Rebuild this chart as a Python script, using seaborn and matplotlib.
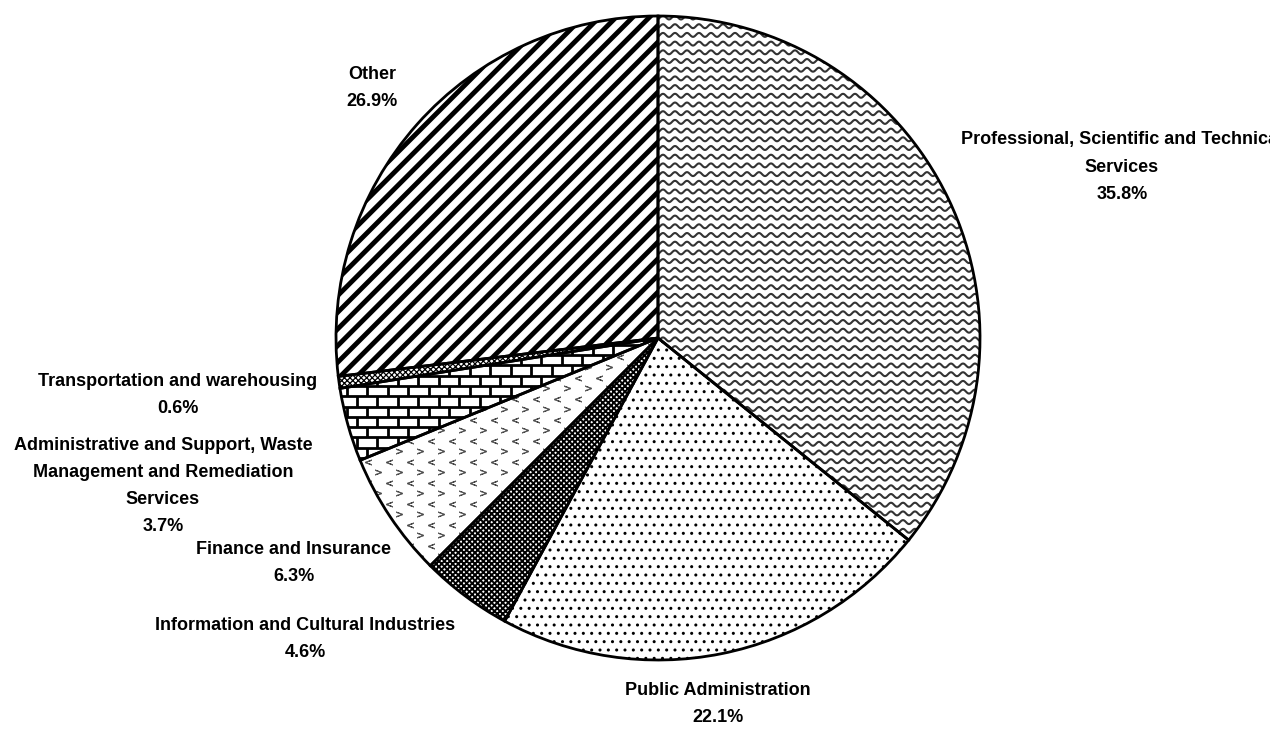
import numpy as np
import seaborn as sns
import matplotlib.pyplot as plt
from matplotlib.collections import LineCollection
from matplotlib.transforms import Bbox, TransformedBbox

# Shares of the total, clockwise from 12 o'clock
sectors = [
    "Professional, Scientific and Technical\nServices",
    "Public Administration",
    "Information and Cultural Industries",
    "Finance and Insurance",
    "Administrative and Support, Waste\nManagement and Remediation\nServices",
    "Transportation and warehousing",
    "Other",
]
shares = [35.8, 22.1, 4.6, 6.3, 3.7, 0.6, 26.9]

# label anchor points in pixels from the top-left corner
label_xy = [(1122, 167), (718, 704), (305, 639), (294, 563),
            (163, 486), (178, 395), (372, 88)]

sns.set_style("white")
plt.rcParams["font.family"] = ["Liberation Sans", "DejaVu Sans"]
plt.rcParams["text.color"] = "black"

W, H = 1286, 729
fig = plt.figure(figsize=(W / 100, H / 100), dpi=100)
ax = fig.add_axes([0, 0, 1, 1])

cx, cy, r = 658, H - 338, 322
hatches = [None, "..", "xxxxxx", None, None, "xxxxxx", "//"]

wedges, _ = ax.pie(shares, startangle=90, counterclock=False,
                   center=(cx, cy), radius=r, colors=["white"] * len(shares),
                   wedgeprops=dict(edgecolor="black", linewidth=2))
for w, h in zip(wedges, hatches):
    if h:
        w.set_hatch(h)
wedges[6].set_hatch_linewidth(3.5)
wedges[2].set_hatch_linewidth(1.4)
wedges[5].set_hatch_linewidth(0.9)

# wave texture for the largest slice
xs = np.arange(cx - 10, cx + r + 10, 1.0)
segs = []
for y0 in np.arange(cy - r - 10, cy + r + 10, 8.7):
    segs.append(np.column_stack([xs, y0 + 2.0 * np.sin(2 * np.pi * xs / 12.0)]))
lc = LineCollection(segs, colors="#333333", linewidths=1.5, zorder=3)
lc.set_clip_path(wedges[0])
ax.add_collection(lc)

# brick texture
bsegs = []
row_h, brick_w = 10.3, 20.5
for i, y0 in enumerate(np.arange(cy - 120, cy + 40, row_h)):
    bsegs.append([(cx - r - 10, y0), (cx, y0)])
    off = (i % 2) * brick_w / 2
    for x0 in np.arange(cx - r - 10 + off, cx, brick_w):
        bsegs.append([(x0, y0), (x0, y0 + row_h)])
bc = LineCollection(bsegs, colors="black", linewidths=2.0, zorder=3)
bc.set_clip_path(wedges[4])
ax.add_collection(bc)

# chevron texture for Finance
gx, gy = np.meshgrid(np.arange(cx - r, cx, 21.0), np.arange(cy - 260, cy, 10.5))
gx = gx + (np.arange(gx.shape[0])[:, None] % 2) * 10.5
for k, m in enumerate(["$>$", "$<$"]):
    sel = (np.arange(gx.shape[0]) % 2 == k)
    sc = ax.scatter(gx[sel].ravel(), gy[sel].ravel(), marker=m, s=22,
                    color="#444444", linewidths=0.3, zorder=3)
    sc.set_clip_path(wedges[3])

# outlines above the textures
for w in wedges:
    w.set_zorder(4)
    w.set_facecolor("none")
ax.pie(shares, startangle=90, counterclock=False, center=(cx, cy), radius=r,
       colors=["white"] * len(shares), wedgeprops=dict(linewidth=0, zorder=1))

# the chart area cuts the right edge of the long label
area = TransformedBbox(Bbox([[0, 0], [1270, H]]), ax.transData)
for name, val, (x, y) in zip(sectors, shares, label_xy):
    t = ax.text(x, H - y, f"{name}\n{val:.1f}%", ha="center", va="center",
                fontsize=13, fontweight="bold", linespacing=1.78, zorder=5)
    t.set_clip_path(None)
    t.set_clip_box(area)
    t.set_clip_on(True)

ax.set_xlim(0, W)
ax.set_ylim(0, H)
ax.set_aspect("equal")
ax.axis("off")
fig.savefig("out.png", dpi=100, facecolor="white")
